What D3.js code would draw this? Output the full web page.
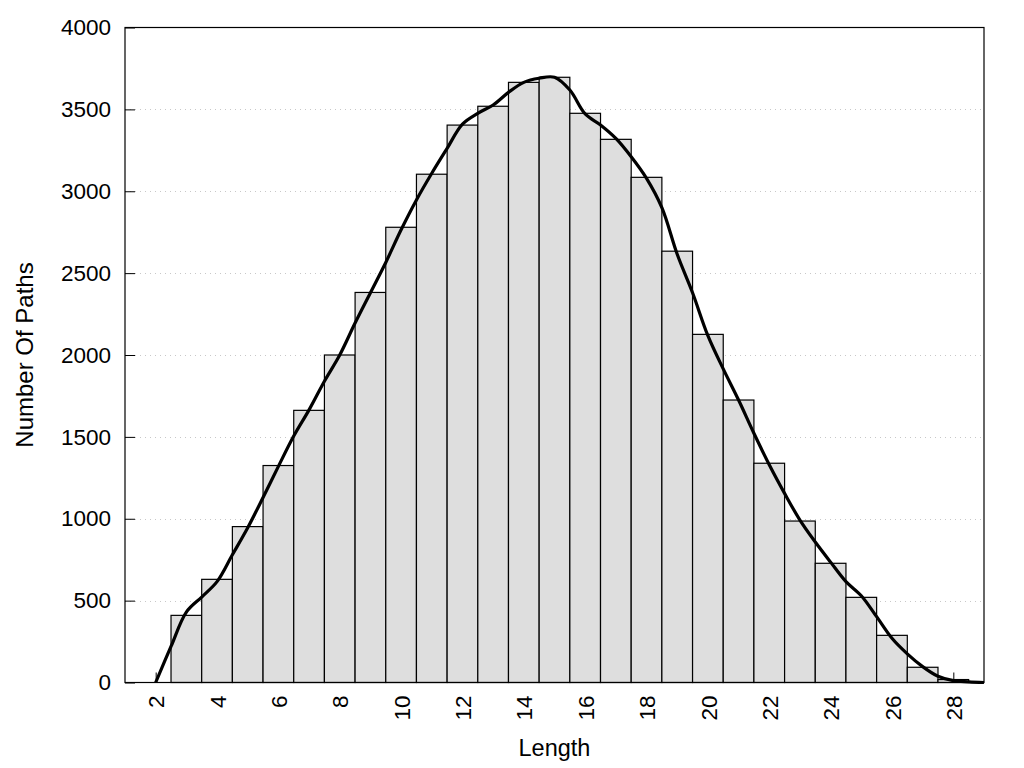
<!DOCTYPE html>
<html>
<head>
<meta charset="utf-8">
<script src="https://cdn.jsdelivr.net/npm/d3@7"></script>
<style>
  html, body { margin: 0; padding: 0; background: #fff; }
  svg { display: block; }
  text { font-family: "Liberation Sans", Arial, sans-serif; fill: #000; }
</style>
</head>
<body>
<svg id="chart" width="1024" height="768"></svg>
<script>
// Histogram bars: path length -> number of paths
const barLengths = [3, 4, 5, 6, 7, 8, 9, 10, 11, 12, 13, 14, 15, 16, 17, 18, 19, 20, 21, 22, 23, 24, 25, 26, 27, 28];
const barCounts  = [410, 630, 952, 1325, 1662, 2000, 2382, 2780, 3104, 3404, 3519, 3665, 3696, 3476, 3317, 3085, 2634, 2126, 1725, 1339, 986, 728, 520, 288, 93, 18];

// Smoothed density curve (read at half-unit steps)
const curveX = [2, 2.5, 3, 3.5, 4, 4.5, 5, 5.5, 6, 6.5, 7, 7.5, 8, 8.5, 9, 9.5, 10, 10.5, 11, 11.5, 12, 12.5, 13, 13.5, 14, 14.5, 15, 15.5, 16, 16.5, 17, 17.5, 18, 18.5, 19, 19.5, 20, 20.5, 21, 21.5, 22, 22.5, 23, 23.5, 24, 24.5, 25, 25.5, 26, 26.5, 27, 27.5, 28, 28.5, 29];
const curveY = [0, 220, 430, 522, 616, 780, 945, 1130, 1320, 1505, 1665, 1840, 2000, 2195, 2380, 2565, 2765, 2947, 3110, 3262, 3410, 3476, 3527, 3604, 3665, 3690, 3696, 3618, 3472, 3405, 3323, 3211, 3079, 2900, 2615, 2380, 2118, 1915, 1725, 1522, 1330, 1155, 992, 858, 735, 616, 530, 402, 270, 175, 97, 38, 11, 4, 0];

const xTicks = [2, 4, 6, 8, 10, 12, 14, 16, 18, 20, 22, 24, 26, 28];
const yTicks = [0, 500, 1000, 1500, 2000, 2500, 3000, 3500, 4000];
const xDomain = [1, 29];
const yDomain = [0, 4000];
const xTitle = "Length";
const yTitle = "Number Of Paths";

const svg = d3.select("#chart");
const L = 125, R = 984, T = 27.5, B = 682.5;

const x = d3.scaleLinear().domain(xDomain).range([L, R]);
const y = d3.scaleLinear().domain(yDomain).range([B, T]);

// grid
svg.append("g").selectAll("line")
  .data(yTicks.filter(v => v > 0 && v < 4000))
  .join("line")
  .attr("x1", L).attr("x2", R)
  .attr("y1", d => Math.round(y(d)) + 0.5).attr("y2", d => Math.round(y(d)) + 0.5)
  .attr("stroke", "#c8c8c8").attr("stroke-width", 1)
  .attr("stroke-dasharray", "1,4");

// axes (drawn before bars so that bars hide inner ticks)
const xAxis = svg.append("g")
  .attr("transform", `translate(0,${B})`)
  .call(d3.axisBottom(x).tickValues(xTicks).tickSizeInner(-10).tickSizeOuter(0).tickFormat(d3.format("d")));
xAxis.select(".domain").remove();
xAxis.selectAll(".tick line").attr("stroke", "#000");
xAxis.selectAll(".tick text")
  .attr("transform", "rotate(-90)")
  .attr("x", -13).attr("y", 0).attr("dy", "0.36em")
  .attr("text-anchor", "end")
  .style("font-size", "22.5px");

const yAxis = svg.append("g")
  .attr("transform", `translate(${L},0)`)
  .call(d3.axisLeft(y).tickValues(yTicks).tickSizeInner(-10).tickSizeOuter(0).tickPadding(14).tickFormat(d3.format("d")));
yAxis.select(".domain").remove();
yAxis.selectAll(".tick line").attr("stroke", "#000");
yAxis.selectAll(".tick text").style("font-size", "22.5px");

// bars
svg.append("g").selectAll("rect")
  .data(barLengths.map((k, i) => ({k, v: barCounts[i]})))
  .join("rect")
  .attr("x", d => x(d.k - 0.5))
  .attr("width", d => x(d.k + 0.5) - x(d.k - 0.5))
  .attr("y", d => y(d.v))
  .attr("height", d => y(0) - y(d.v))
  .attr("fill", "#dedede")
  .attr("stroke", "#000")
  .attr("stroke-width", 1.2);

// density curve
svg.append("path")
  .datum(curveX.map((v, i) => [v, curveY[i]]))
  .attr("fill", "none")
  .attr("stroke", "#000")
  .attr("stroke-width", 3.2)
  .attr("stroke-linejoin", "round")
  .attr("d", d3.line().x(d => x(d[0])).y(d => y(d[1])).curve(d3.curveCatmullRom.alpha(0.5)));

// frame
svg.append("rect")
  .attr("x", L).attr("y", T).attr("width", R - L).attr("height", B - T)
  .attr("fill", "none").attr("stroke", "#000").attr("stroke-width", 1.2);

// titles
svg.append("text")
  .attr("x", (L + R) / 2).attr("y", 756)
  .attr("text-anchor", "middle")
  .style("font-size", "23.5px")
  .text(xTitle);

svg.append("text")
  .attr("transform", `translate(33,${(T + B) / 2}) rotate(-90)`)
  .attr("text-anchor", "middle")
  .style("font-size", "24px")
  .text(yTitle);
</script>
</body>
</html>
